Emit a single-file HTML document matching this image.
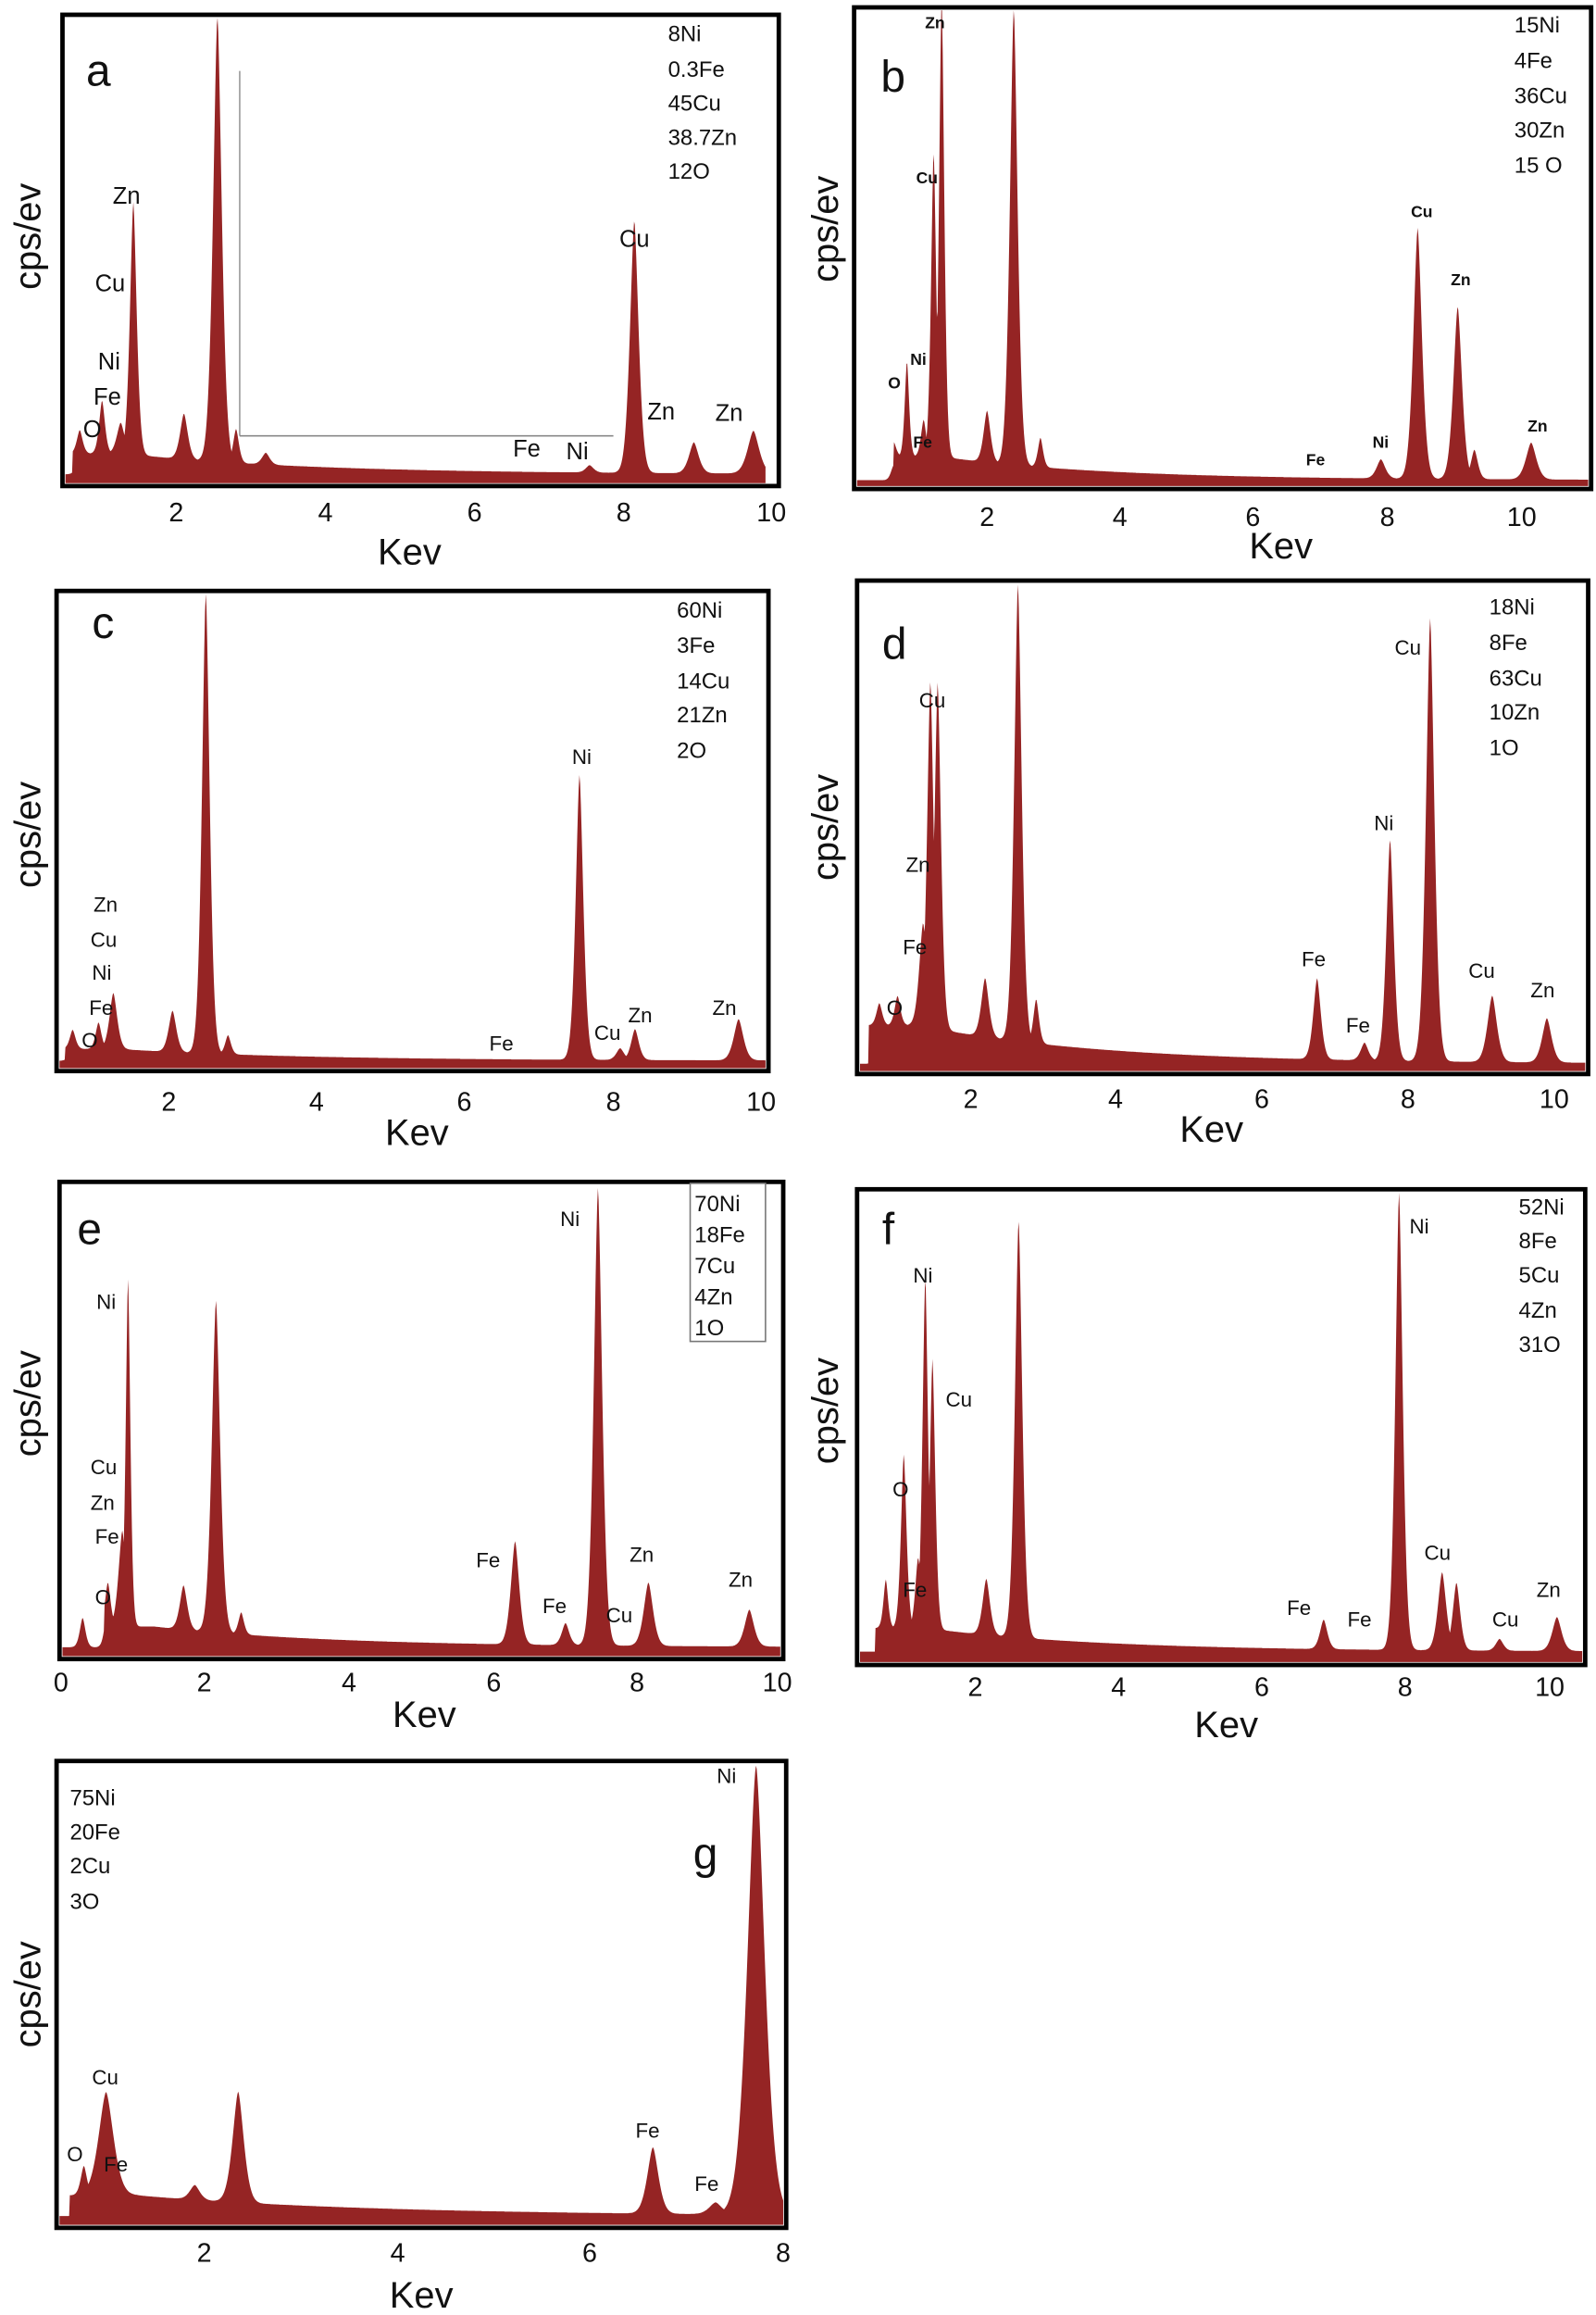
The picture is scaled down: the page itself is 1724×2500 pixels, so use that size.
<!DOCTYPE html>
<html><head><meta charset="utf-8">
<style>
html,body{margin:0;padding:0;background:#fff;}
svg{display:block;}
text{font-family:"Liberation Sans",sans-serif;fill:#111;}
.pl{font-size:14px;}
.pa{font-size:16px;}
.plb{font-size:11px;font-weight:bold;}
.cm{font-size:15px;}
.tk{font-size:18px;}
.ax{font-size:25px;}
.lt{font-size:30px;}
</style></head>
<body>
<svg id="s" width="1724" height="2500" viewBox="0 0 1080 1567" xmlns="http://www.w3.org/2000/svg">
<g id="spec"></g>

<!-- panel a -->
<line x1="162" y1="48" x2="162" y2="295" stroke="#999" stroke-width="1"/>
<line x1="162" y1="295" x2="415" y2="295" stroke="#888" stroke-width="1"/>
<rect x="42" y="10" width="485" height="319" fill="none" stroke="#000" stroke-width="3"/>
<text class="lt" x="58" y="58">a</text>
<text class="cm" x="452" y="28">8Ni</text><text class="cm" x="452" y="52">0.3Fe</text><text class="cm" x="452" y="75">45Cu</text><text class="cm" x="452" y="98">38.7Zn</text><text class="cm" x="452" y="121">12O</text>
<text class="pa" x="76" y="138">Zn</text><text class="pa" x="64" y="197">Cu</text><text class="pa" x="66" y="250">Ni</text><text class="pa" x="63" y="274">Fe</text><text class="pa" x="56" y="296">O</text>
<text class="pa" x="419" y="167">Cu</text><text class="pa" x="438" y="284">Zn</text><text class="pa" x="484" y="285">Zn</text><text class="pa" x="347" y="309">Fe</text><text class="pa" x="383" y="311">Ni</text>
<g class="tk" text-anchor="middle"><text x="119" y="353">2</text><text x="220" y="353">4</text><text x="321" y="353">6</text><text x="422" y="353">8</text><text x="522" y="353">10</text></g>
<text class="ax" x="277" y="382" text-anchor="middle">Kev</text>
<text class="ax" transform="translate(27,160) rotate(-90)" text-anchor="middle">cps/ev</text>

<!-- panel b -->
<rect x="578" y="5" width="499" height="326" fill="none" stroke="#000" stroke-width="3"/>
<text class="lt" x="596" y="62">b</text>
<text class="cm" x="1025" y="22">15Ni</text><text class="cm" x="1025" y="46">4Fe</text><text class="cm" x="1025" y="70">36Cu</text><text class="cm" x="1025" y="93">30Zn</text><text class="cm" x="1025" y="117">15 O</text>
<text class="plb" x="626" y="19">Zn</text><text class="plb" x="620" y="124">Cu</text><text class="plb" x="616" y="247">Ni</text><text class="plb" x="601" y="263">O</text><text class="plb" x="618" y="303">Fe</text>
<text class="plb" x="955" y="147">Cu</text><text class="plb" x="982" y="193">Zn</text><text class="plb" x="929" y="303">Ni</text><text class="plb" x="884" y="315">Fe</text><text class="plb" x="1034" y="292">Zn</text>
<g class="tk" text-anchor="middle"><text x="668" y="356">2</text><text x="758" y="356">4</text><text x="848" y="356">6</text><text x="939" y="356">8</text><text x="1030" y="356">10</text></g>
<text class="ax" x="867" y="378" text-anchor="middle">Kev</text>
<text class="ax" transform="translate(567,155) rotate(-90)" text-anchor="middle">cps/ev</text>

<!-- panel c -->
<rect x="38" y="400" width="482" height="325" fill="none" stroke="#000" stroke-width="3"/>
<text class="lt" x="62" y="432">c</text>
<text class="cm" x="458" y="418">60Ni</text><text class="cm" x="458" y="442">3Fe</text><text class="cm" x="458" y="466">14Cu</text><text class="cm" x="458" y="489">21Zn</text><text class="cm" x="458" y="513">2O</text>
<text class="pl" x="63" y="617">Zn</text><text class="pl" x="61" y="641">Cu</text><text class="pl" x="62" y="663">Ni</text><text class="pl" x="60" y="687">Fe</text><text class="pl" x="55" y="709">O</text>
<text class="pl" x="387" y="517">Ni</text><text class="pl" x="331" y="711">Fe</text><text class="pl" x="402" y="704">Cu</text><text class="pl" x="425" y="692">Zn</text><text class="pl" x="482" y="687">Zn</text>
<g class="tk" text-anchor="middle"><text x="114" y="752">2</text><text x="214" y="752">4</text><text x="314" y="752">6</text><text x="415" y="752">8</text><text x="515" y="752">10</text></g>
<text class="ax" x="282" y="775" text-anchor="middle">Kev</text>
<text class="ax" transform="translate(27,565) rotate(-90)" text-anchor="middle">cps/ev</text>

<!-- panel d -->
<rect x="580" y="393" width="495" height="334" fill="none" stroke="#000" stroke-width="3"/>
<text class="lt" x="597" y="446">d</text>
<text class="cm" x="1008" y="416">18Ni</text><text class="cm" x="1008" y="440">8Fe</text><text class="cm" x="1008" y="464">63Cu</text><text class="cm" x="1008" y="487">10Zn</text><text class="cm" x="1008" y="511">1O</text>
<text class="pl" x="622" y="479">Cu</text><text class="pl" x="613" y="590">Zn</text><text class="pl" x="611" y="646">Fe</text><text class="pl" x="600" y="687">O</text>
<text class="pl" x="944" y="443">Cu</text><text class="pl" x="930" y="562">Ni</text><text class="pl" x="881" y="654">Fe</text><text class="pl" x="911" y="699">Fe</text><text class="pl" x="994" y="662">Cu</text><text class="pl" x="1036" y="675">Zn</text>
<g class="tk" text-anchor="middle"><text x="657" y="750">2</text><text x="755" y="750">4</text><text x="854" y="750">6</text><text x="953" y="750">8</text><text x="1052" y="750">10</text></g>
<text class="ax" x="820" y="773" text-anchor="middle">Kev</text>
<text class="ax" transform="translate(567,560) rotate(-90)" text-anchor="middle">cps/ev</text>

<!-- panel e -->
<rect x="40" y="800" width="490" height="323" fill="none" stroke="#000" stroke-width="3"/>
<rect x="467" y="801" width="51" height="107" fill="#fff" stroke="#777" stroke-width="1"/>
<text class="lt" x="52" y="842">e</text>
<text class="cm" x="470" y="820">70Ni</text><text class="cm" x="470" y="841">18Fe</text><text class="cm" x="470" y="862">7Cu</text><text class="cm" x="470" y="883">4Zn</text><text class="cm" x="470" y="904">1O</text>
<text class="pl" x="65" y="886">Ni</text><text class="pl" x="61" y="998">Cu</text><text class="pl" x="61" y="1022">Zn</text><text class="pl" x="64" y="1045">Fe</text><text class="pl" x="64" y="1086">O</text>
<text class="pl" x="379" y="830">Ni</text><text class="pl" x="322" y="1061">Fe</text><text class="pl" x="367" y="1092">Fe</text><text class="pl" x="410" y="1098">Cu</text><text class="pl" x="426" y="1057">Zn</text><text class="pl" x="493" y="1074">Zn</text>
<g class="tk" text-anchor="middle"><text x="41" y="1145">0</text><text x="138" y="1145">2</text><text x="236" y="1145">4</text><text x="334" y="1145">6</text><text x="431" y="1145">8</text><text x="526" y="1145">10</text></g>
<text class="ax" x="287" y="1169" text-anchor="middle">Kev</text>
<text class="ax" transform="translate(27,950) rotate(-90)" text-anchor="middle">cps/ev</text>

<!-- panel f -->
<rect x="580" y="805" width="493" height="322" fill="none" stroke="#000" stroke-width="3"/>
<text class="lt" x="597" y="842">f</text>
<text class="cm" x="1028" y="822">52Ni</text><text class="cm" x="1028" y="845">8Fe</text><text class="cm" x="1028" y="868">5Cu</text><text class="cm" x="1028" y="892">4Zn</text><text class="cm" x="1028" y="915">31O</text>
<text class="pl" x="618" y="868">Ni</text><text class="pl" x="640" y="952">Cu</text><text class="pl" x="604" y="1013">O</text><text class="pl" x="611" y="1081">Fe</text>
<text class="pl" x="954" y="835">Ni</text><text class="pl" x="964" y="1056">Cu</text><text class="pl" x="871" y="1093">Fe</text><text class="pl" x="912" y="1101">Fe</text><text class="pl" x="1010" y="1101">Cu</text><text class="pl" x="1040" y="1081">Zn</text>
<g class="tk" text-anchor="middle"><text x="660" y="1148">2</text><text x="757" y="1148">4</text><text x="854" y="1148">6</text><text x="951" y="1148">8</text><text x="1049" y="1148">10</text></g>
<text class="ax" x="830" y="1176" text-anchor="middle">Kev</text>
<text class="ax" transform="translate(567,955) rotate(-90)" text-anchor="middle">cps/ev</text>

<!-- panel g -->
<rect x="38" y="1192" width="494" height="316" fill="none" stroke="#000" stroke-width="3"/>
<text class="lt" x="469" y="1265">g</text>
<text class="cm" x="47" y="1222">75Ni</text><text class="cm" x="47" y="1245">20Fe</text><text class="cm" x="47" y="1268">2Cu</text><text class="cm" x="47" y="1292">3O</text>
<text class="pl" x="485" y="1207">Ni</text><text class="pl" x="62" y="1411">Cu</text><text class="pl" x="45" y="1463">O</text><text class="pl" x="70" y="1470">Fe</text><text class="pl" x="430" y="1447">Fe</text><text class="pl" x="470" y="1483">Fe</text>
<g class="tk" text-anchor="middle"><text x="138" y="1531">2</text><text x="269" y="1531">4</text><text x="399" y="1531">6</text><text x="530" y="1531">8</text></g>
<text class="ax" x="285" y="1562" text-anchor="middle">Kev</text>
<text class="ax" transform="translate(27,1350) rotate(-90)" text-anchor="middle">cps/ev</text>
</svg>
<script>
var P=[
 {L:44,R:518,T:12,B:327,x0:18.4,s:50.4,base:321,bg:14,pk:[[0.7,305,.03],[1.0,285,.03],[1.25,300,.04],[1.42,150,.035],[2.1,290,.04],[2.55,18,.045],[2.8,298,.03],[3.2,313,.04],[7.55,316,.04],[8.15,150,.045],[8.95,300,.05],[9.75,292,.06]]},
 {L:580,R:1075,T:7,B:329,x0:577.6,s:45.2,base:325,bg:16,pk:[[0.6,315,.03],[0.8,260,.025],[1.05,300,.03],[1.2,118,.03],[1.32,10,.03],[2.0,290,.04],[2.4,15,.045],[2.8,305,.03],[7.9,312,.05],[8.45,155,.05],[9.05,208,.05],[9.3,305,.04],[10.15,300,.06]]},
 {L:40,R:518,T:402,B:723,x0:13.8,s:50.1,base:718,bg:8,pk:[[0.7,705,.03],[1.05,700,.03],[1.25,680,.04],[2.05,690,.04],[2.5,405,.04],[2.8,705,.03],[7.55,525,.04],[8.1,710,.04],[8.3,697,.04],[9.7,690,.05]]},
 {L:582,R:1073,T:395,B:725,x0:558,s:49.4,base:720,bg:26,pk:[[0.75,705,.03],[1.0,700,.03],[1.35,650,.04],[1.45,485,.035],[1.55,485,.035],[2.2,680,.04],[2.65,410,.04],[2.9,690,.03],[6.75,665,.04],[7.4,708,.04],[7.75,570,.04],[8.3,420,.045],[9.15,675,.05],[9.9,690,.05]]},
 {L:42,R:528,T:802,B:1121,x0:41,s:48.8,base:1115,bg:14,pk:[[0.3,1095,.03],[0.65,1085,.03],[0.85,1050,.04],[0.93,878,.025],[1.7,1085,.04],[2.15,890,.045],[2.5,1100,.03],[6.3,1045,.045],[7.0,1100,.04],[7.45,805,.045],[8.15,1072,.05],[9.55,1090,.05]]},
 {L:582,R:1071,T:807,B:1125,x0:563,s:48.6,base:1118,bg:16,pk:[[0.75,1085,.025],[1.0,1000,.03],[1.2,1070,.03],[1.3,880,.03],[1.4,935,.03],[2.15,1080,.04],[2.6,835,.04],[6.85,1098,.04],[7.9,808,.04],[8.5,1065,.045],[8.7,1072,.04],[9.3,1110,.04],[10.1,1095,.05]]},
 {L:40,R:530,T:1194,B:1506,x0:7.5,s:65.3,base:1500,bg:14,pk:[[0.75,1480,.025],[0.98,1430,.06],[1.9,1490,.04],[2.35,1425,.045],[6.65,1455,.045],[7.3,1492,.05],[7.72,1196,.07]]}
];
var out='';
P.forEach(function(p){
 var d='M'+p.L+','+p.B;
 for(var x=p.L;x<=p.R;x+=0.5){
  var k=(x-p.x0)/p.s, y=p.base;
  if(k>0.6) y-=p.bg*Math.exp(-Math.max(0,k-1.3)/2.5);
  var sum=0;
  p.pk.forEach(function(q){var a=p.base-q[1];var t=Math.abs(k-q[0])/(q[2]*1.2);sum=Math.max(sum,a*Math.exp(-Math.pow(t,1.6)/2));});
  y-=sum;
  if(y<p.T)y=p.T;
  d+=' L'+x.toFixed(1)+','+y.toFixed(1);
 }
 d+=' L'+p.R+','+p.B+' Z';
 out+='<path d="'+d+'" fill="#952424"/>';
});
document.getElementById('spec').innerHTML=out;
</script>
</body></html>
